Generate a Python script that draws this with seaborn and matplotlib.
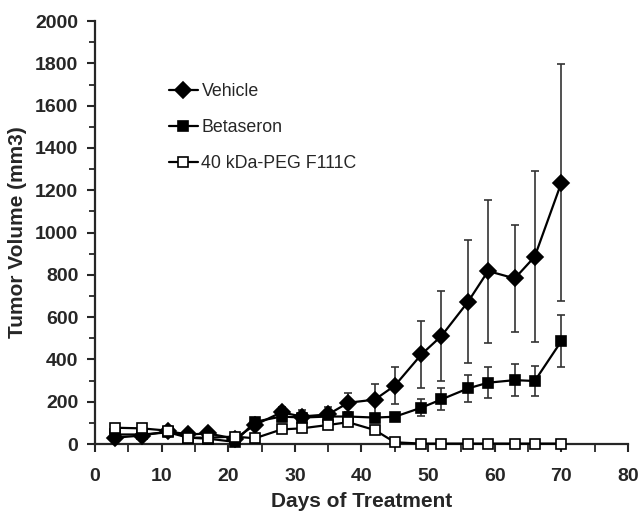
import numpy as np
import pandas as pd
import matplotlib
matplotlib.use("Agg")
import matplotlib.pyplot as plt
import seaborn as sns
from matplotlib.ticker import MultipleLocator

days = [3, 7, 11, 14, 17, 21, 24, 28, 31, 35, 38, 42, 45, 49, 52, 56, 59, 63, 66, 70]
vehicle = [30, 40, 60, 45, 50, 25, 90, 150, 130, 140, 195, 210, 276, 424, 511, 673, 818, 783, 886, 1236]
vehicle_err = [10, 10, 10, 8, 8, 8, 15, 25, 30, 35, 45, 75, 88, 158, 211, 292, 338, 254, 404, 560]
betaseron = [45, 45, 55, 30, 25, 10, 105, 130, 125, 130, 130, 125, 129, 172, 211, 263, 290, 302, 298, 487]
betaseron_err = [8, 8, 8, 6, 6, 5, 15, 20, 20, 20, 15, 15, 12, 40, 52, 64, 73, 75, 69, 124]
peg = [77, 74, 63, 30, 30, 35, 27, 69, 74, 90, 103, 66, 8, 2, 2, 2, 2, 2, 2, 2]
peg_err = [5, 5, 5, 4, 4, 4, 4, 8, 8, 8, 8, 8, 3, 1, 1, 1, 1, 1, 1, 1]
labels = ["Vehicle", "Betaseron", "40 kDa-PEG F111C"]

sns.set_style("ticks")
plt.rcParams['font.family'] = ['Liberation Sans', 'DejaVu Sans']

fig = plt.figure(figsize=(6.43, 5.12), dpi=100)
ax = fig.add_axes([0.1477, 0.1328, 0.829, 0.826])

series = [
    (vehicle, vehicle_err, "D", "black", 8.5),
    (betaseron, betaseron_err, "s", "black", 7.2),
    (peg, peg_err, "s", "white", 7.5),
]
rows = []
for lab, (vals, errs, m, fc, ms) in zip(labels, series):
    for d, v, e in zip(days, vals, errs):
        rows.append({"day": d, "vol": v, "err": e, "group": lab})
df = pd.DataFrame(rows)

for lab, (vals, errs, m, fc, ms) in zip(labels, series):
    sub = df[df.group == lab]
    ax.errorbar(sub["day"], sub["vol"], yerr=sub["err"], fmt="none",
                ecolor="#333333", elinewidth=1.2, capsize=3, capthick=1.2, zorder=2)

for i, (lab, (vals, errs, m, fc, ms)) in enumerate(zip(labels, series)):
    sub = df[df.group == lab]
    sns.lineplot(data=sub, x="day", y="vol", ax=ax, color="black", linewidth=1.6,
                 marker=m, markersize=ms, markerfacecolor=fc, markeredgecolor="black",
                 markeredgewidth=1.2, label=lab, zorder=3 + i, errorbar=None,
                 clip_on=False)

ax.set_xlim(0, 80)
ax.set_ylim(0, 2000)
ax.xaxis.set_major_locator(MultipleLocator(10))
ax.xaxis.set_minor_locator(MultipleLocator(5))
ax.yaxis.set_major_locator(MultipleLocator(200))
ax.yaxis.set_minor_locator(MultipleLocator(100))
ax.tick_params(axis="both", which="major", direction="out", width=1.5, labelsize=14)
ax.tick_params(axis="both", which="minor", direction="out", width=1.3)
ax.tick_params(axis="y", which="major", length=6, pad=6)
ax.tick_params(axis="y", which="minor", length=4.5)
ax.tick_params(axis="x", which="both", length=5.5, pad=11.5)
for t in ax.get_xticklabels() + ax.get_yticklabels():
    t.set_fontweight("bold")
for s in ["left", "bottom"]:
    ax.spines[s].set_linewidth(1.6)
sns.despine(ax=ax)
ax.set_xlabel("Days of Treatment", fontsize=15, fontweight="bold", labelpad=5)
ax.set_ylabel("Tumor Volume (mm3)", fontsize=15, fontweight="bold", labelpad=6)

leg = ax.legend(loc="upper left", bbox_to_anchor=(0.108, 0.892), frameon=False,
                fontsize=12.8, handlelength=1.65, handletextpad=0.2, labelspacing=1.08)

fig.savefig("out.png", dpi=100)
